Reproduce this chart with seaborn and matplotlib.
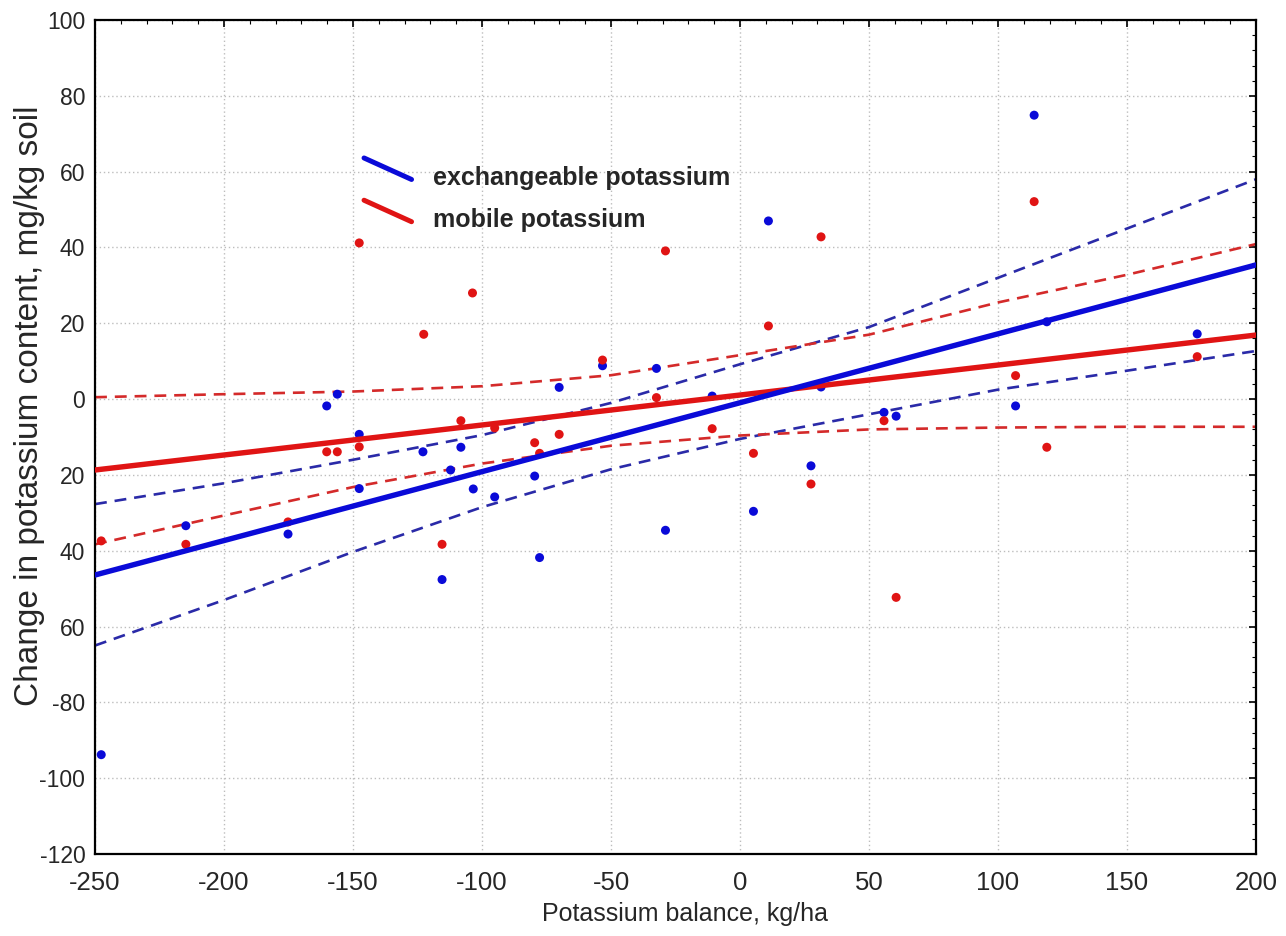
import numpy as np
import pandas as pd
import matplotlib
matplotlib.use("Agg")
import matplotlib.pyplot as plt
from matplotlib.lines import Line2D
from matplotlib.legend_handler import HandlerLine2D
from matplotlib.ticker import MultipleLocator
import seaborn as sns

# --- data ---
blue_x = [-247.6, -214.8, -175.2, -160.2, -156.1, -147.6, -147.6, -122.9, -115.5, -112.2,
          -108.2, -103.4, -95.1, -79.6, -77.7, -70.1, -53.3, -32.4, -28.9, -10.8,
          5.2, 11.0, 27.5, 31.4, 55.8, 60.5, 106.8, 114.0, 118.9, 177.2]
blue_y = [-93.8, -33.4, -35.6, -1.8, 1.3, -9.3, -23.6, -13.9, -47.6, -18.7,
          -12.7, -23.7, -25.8, -20.3, -41.8, 3.1, 8.8, 8.1, -34.6, 0.8,
          -29.6, 47.0, -17.6, 3.2, -3.5, -4.5, -1.8, 74.9, 20.4, 17.2]

red_x = [-247.6, -214.8, -175.2, -160.2, -156.1, -147.6, -147.6, -122.6, -115.5, -108.2,
         -103.7, -95.1, -79.6, -77.7, -70.1, -53.3, -32.4, -28.9, -10.8, 5.2,
         11.0, 27.5, 31.4, 55.8, 60.5, 106.8, 114.0, 118.9, 177.2]
red_y = [-37.4, -38.3, -32.4, -13.9, -13.9, -12.6, 41.2, 17.1, -38.3, -5.7,
         28.0, -7.6, -11.5, -14.3, -9.3, 10.3, 0.4, 39.1, -7.8, -14.3,
         19.3, -22.4, 42.8, -5.7, -52.3, 6.2, 52.1, -12.7, 11.2]

# regression lines (end points)
fit_x = [-250, 200]
blue_fit = [-46.4, 35.4]
red_fit = [-18.7, 16.9]

# 95% confidence bands
band_x = [-250, -200, -150, -100, -50, 0, 50, 100, 150, 200]
blue_upper = [-27.7, -22.2, -16.0, -9.5, -1.0, 9.2, 19.0, 32.0, 45.0, 58.0]
blue_lower = [-65.0, -53.0, -40.3, -28.5, -18.5, -10.5, -4.0, 2.5, 7.5, 12.7]
red_upper = [0.5, 1.3, 2.0, 3.4, 6.3, 11.6, 17.0, 25.5, 32.8, 40.9]
red_lower = [-38.3, -30.7, -23.2, -17.0, -12.3, -9.6, -8.0, -7.5, -7.3, -7.3]

x_ticks = [-250, -200, -150, -100, -50, 0, 50, 100, 150, 200]
y_ticks = [100, 80, 60, 40, 20, 0, -20, -40, -60, -80, -100, -120]
y_tick_labels = ['100', '80', '60', '40', '20', '0', '20', '40', '60', '-80', '-100', '-120']

series_labels = ['exchangeable potassium', 'mobile potassium']

BLUE = '#0a0ad8'
RED = '#e01414'
BLUE_DASH = '#2a2aa8'
RED_DASH = '#d42a2a'

sns.set_style('white')
plt.rcParams['font.family'] = ['Liberation Sans', 'DejaVu Sans']


class DiagonalHandler(HandlerLine2D):
    """Legend key drawn as a falling diagonal stroke."""
    def create_artists(self, legend, orig_handle, xdescent, ydescent, width, height, fontsize, trans):
        x0, x1 = -xdescent, -xdescent + width
        y0, y1 = -ydescent + height * 1.32, -ydescent + height * 0.36
        line = Line2D([x0, x1], [y0, y1])
        self.update_prop(line, orig_handle, legend)
        line.set_solid_capstyle('round')
        line.set_transform(trans)
        return [line]


fig = plt.figure(figsize=(12.86, 9.36), dpi=100)
fig.subplots_adjust(left=0.0739, right=0.9767, top=0.9786, bottom=0.0876)
ax = fig.add_subplot(111)

# confidence bands
dash = (4.5, 3)
for ys, col in [(blue_upper, BLUE_DASH), (blue_lower, BLUE_DASH),
                (red_upper, RED_DASH), (red_lower, RED_DASH)]:
    sns.lineplot(x=band_x, y=ys, ax=ax, color=col, lw=1.9, linestyle=(0, dash))

# points
sns.scatterplot(x=blue_x, y=blue_y, ax=ax, color=BLUE, s=42, edgecolor='none', zorder=3)
sns.scatterplot(x=red_x, y=red_y, ax=ax, color=RED, s=42, edgecolor='none', zorder=3)

# fitted lines
sns.lineplot(x=fit_x, y=red_fit, ax=ax, color=RED, lw=3.9, zorder=4)
sns.lineplot(x=fit_x, y=blue_fit, ax=ax, color=BLUE, lw=3.9, zorder=4)

ax.set_xlim(-250, 200)
ax.set_ylim(-120, 100)
ax.set_xticks(x_ticks)
ax.set_xticklabels([str(v) for v in x_ticks], fontsize=18.5)
ax.set_yticks(y_ticks)
ax.set_yticklabels(y_tick_labels, fontsize=16.5)
ax.xaxis.set_minor_locator(MultipleLocator(10))
ax.yaxis.set_minor_locator(MultipleLocator(4))
ax.tick_params(which='both', direction='in', top=True, right=True, color='black')
ax.tick_params(which='major', length=5, width=1.2)
ax.tick_params(which='minor', length=3, width=0.8)
ax.tick_params(axis='x', which='major', pad=12)
ax.tick_params(axis='y', which='major', pad=7)

ax.grid(True, which='major', linestyle=(0, (1, 2)), color='#bdbdbd', lw=1.0)
for sp in ax.spines.values():
    sp.set_color('black')
    sp.set_linewidth(1.6)

ax.set_xlabel('Potassium balance, kg/ha', fontsize=18)
ax.xaxis.set_label_coords(0.508, -0.057)
ax.set_ylabel('Change in potassium content, mg/kg soil', fontsize=24)
ax.yaxis.set_label_coords(-0.043, 0.538)

handles = [Line2D([], [], color=BLUE, lw=3.6), Line2D([], [], color=RED, lw=3.6)]
ax.legend(handles, series_labels, handler_map={Line2D: DiagonalHandler()},
          loc='upper left', bbox_to_anchor=(0.2317, 0.826), frameon=False,
          prop={'weight': 'bold', 'size': 18}, handlelength=1.9, handleheight=1.0,
          handletextpad=0.85, labelspacing=0.7, borderpad=0, borderaxespad=0)

fig.savefig('out.png', dpi=100)
